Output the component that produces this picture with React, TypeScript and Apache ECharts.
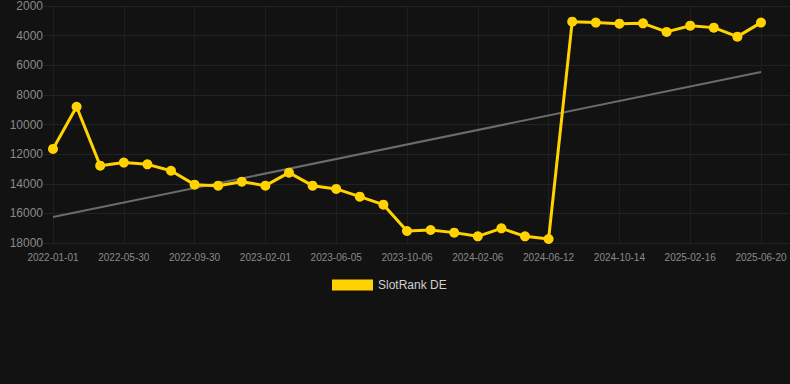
import React, { useEffect, useRef } from "react";
import * as echarts from "echarts";

const tickIndices = [0, 3, 6, 9, 12, 15, 18, 21, 24, 27, 30];
const tickLabels = [
  "2022-01-01", "2022-05-30", "2022-09-30", "2023-02-01", "2023-06-05", "2023-10-06",
  "2024-02-06", "2024-06-12", "2024-10-14", "2025-02-16", "2025-06-20",
];
const rankValues = [
  11650, 8800, 12780, 12570, 12690, 13120, 14060, 14130, 13860, 14130, 13250,
  14130, 14350, 14870, 15410, 17190, 17120, 17300, 17550, 17010, 17550, 17730,
  3060, 3120, 3190, 3170, 3750, 3330, 3460, 4070, 3120,
];
const trendValues = [16250, 6450];

export default function App() {
  const ref = useRef<HTMLDivElement>(null);
  useEffect(() => {
    document.body.style.margin = "0";
    document.body.style.background = "#121212";
    if (!ref.current) return;
    const chart = echarts.init(ref.current, null, { renderer: "svg" });
    const n = rankValues.length;
    chart.setOption({
      animation: false,
      backgroundColor: "#121212",
      grid: { left: 44, right: 0, top: 6, bottom: 141 },
      legend: {
        data: ["SlotRank DE"],
        top: 274,
        left: 327,
        itemWidth: 41,
        itemHeight: 11,
        icon: "rect",
        itemGap: 6,
        textStyle: { color: "#d0d0d0", fontSize: 12, fontFamily: "Liberation Sans, Arial, sans-serif" },
      },
      xAxis: {
        type: "value",
        min: -0.381,
        max: n - 1 + 1.229,
        axisLine: { show: false },
        axisTick: { show: false, customValues: tickIndices },
        splitLine: { show: true, lineStyle: { color: "#1f1f1f", width: 1 } },
        axisLabel: {
          customValues: tickIndices,
          color: "#8a8a8a",
          fontSize: 10,
          margin: 9,
          fontFamily: "Liberation Sans, Arial, sans-serif",
          formatter: (v: number) => {
            const k = tickIndices.indexOf(Math.round(v));
            return k >= 0 ? tickLabels[k] : "";
          },
        },
      },
      yAxis: {
        type: "value",
        inverse: true,
        min: 2000,
        max: 18000,
        interval: 2000,
        axisLine: { show: false },
        axisTick: { show: false },
        splitLine: { show: true, lineStyle: { color: "#222222", width: 1 } },
        axisLabel: {
          color: "#8a8a8a",
          fontSize: 12,
          margin: 1,
          fontFamily: "Liberation Sans, Arial, sans-serif",
          formatter: (v: number) => String(v),
        },
      },
      series: [
        {
          name: "trend",
          type: "line",
          data: [[0, trendValues[0]], [n - 1, trendValues[1]]],
          symbol: "none",
          lineStyle: { color: "#6b6b6b", width: 2 },
          itemStyle: { color: "#6b6b6b" },
          silent: true,
          z: 1,
        },
        {
          name: "SlotRank DE",
          type: "line",
          data: rankValues.map((v, i) => [i, v]),
          symbol: "circle",
          symbolSize: 10,
          lineStyle: { color: "#ffd200", width: 3 },
          itemStyle: { color: "#ffd200" },
          z: 2,
        },
      ],
    });
    return () => chart.dispose();
  }, []);
  return <div ref={ref} style={{ width: 790, height: 384 }} />;
}
